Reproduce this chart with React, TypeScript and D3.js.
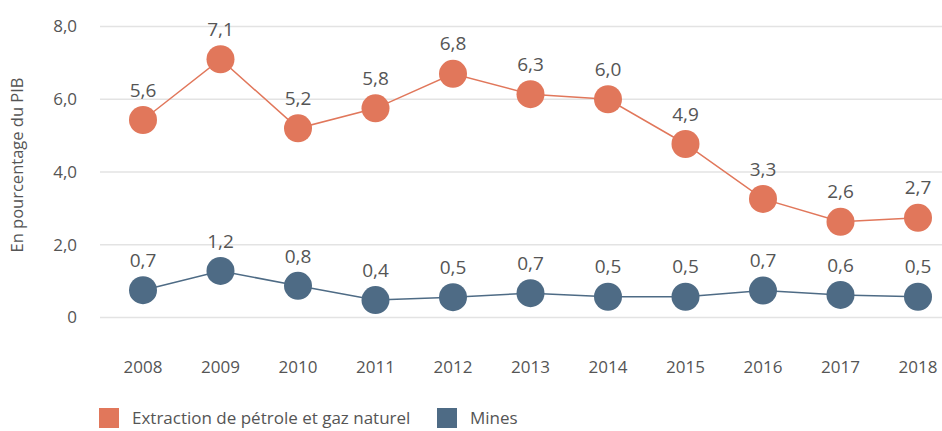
import React, { useEffect, useRef } from 'react';
import * as d3 from 'd3';

const years = ['2008', '2009', '2010', '2011', '2012', '2013', '2014', '2015', '2016', '2017', '2018'];
const petroleValues = [5.43, 7.1, 5.2, 5.75, 6.7, 6.14, 6.0, 4.77, 3.26, 2.63, 2.74];
const petroleLabels = ['5,6', '7,1', '5,2', '5,8', '6,8', '6,3', '6,0', '4,9', '3,3', '2,6', '2,7'];
const minesValues = [0.75, 1.28, 0.87, 0.48, 0.56, 0.67, 0.57, 0.57, 0.74, 0.62, 0.57];
const minesLabels = ['0,7', '1,2', '0,8', '0,4', '0,5', '0,7', '0,5', '0,5', '0,7', '0,6', '0,5'];
const yTicks = [0, 2, 4, 6, 8];
const yTickLabels = ['0', '2,0', '4,0', '6,0', '8,0'];

const ORANGE = '#e1775b';
const BLUE = '#4e6b85';
const TEXT = '#555555';
const FONT = '"Open Sans", Lato, sans-serif';

export default function App() {
  const ref = useRef<SVGSVGElement>(null);

  useEffect(() => {
    const width = 942;
    const height = 431;
    const svg = d3.select(ref.current).attr('viewBox', [0, 0, width, height]);
    svg.selectAll('*').remove();

    const x = d3.scalePoint<string>().domain(years).range([143, 918]);
    const y = d3.scaleLinear().domain([0, 8]).range([317.5, 26.5]);

    // grid
    svg
      .append('g')
      .selectAll('line')
      .data(yTicks)
      .join('line')
      .attr('x1', 100)
      .attr('x2', width)
      .attr('y1', (d) => y(d))
      .attr('y2', (d) => y(d))
      .attr('stroke', '#e3e3e3')
      .attr('stroke-width', 1.5);

    svg
      .append('g')
      .selectAll('text')
      .data(yTicks)
      .join('text')
      .attr('x', 77)
      .attr('y', (d) => y(d))
      .attr('dy', '0.35em')
      .attr('text-anchor', 'end')
      .attr('font-family', FONT)
      .attr('font-size', 17)
      .attr('fill', TEXT)
      .text((d, i) => yTickLabels[i]);

    svg
      .append('text')
      .attr('transform', 'translate(17,165) rotate(-90)')
      .attr('text-anchor', 'middle')
      .attr('dy', '0.35em')
      .attr('font-family', FONT)
      .attr('font-size', 16.5)
      .attr('fill', TEXT)
      .text('En pourcentage du PIB');

    svg
      .append('g')
      .selectAll('text')
      .data(years)
      .join('text')
      .attr('x', (d) => x(d)!)
      .attr('y', 367)
      .attr('dy', '0.35em')
      .attr('text-anchor', 'middle')
      .attr('font-family', FONT)
      .attr('font-size', 17)
      .attr('fill', TEXT)
      .text((d) => d);

    const line = d3
      .line<number>()
      .x((d, i) => x(years[i])!)
      .y((d) => y(d));

    const series = [
      { values: petroleValues, labels: petroleLabels, color: ORANGE },
      { values: minesValues, labels: minesLabels, color: BLUE },
    ];

    series.forEach((s) => {
      const g = svg.append('g');
      g.append('path')
        .attr('d', line(s.values))
        .attr('fill', 'none')
        .attr('stroke', s.color)
        .attr('stroke-width', 1.5);
      g.selectAll('circle')
        .data(s.values)
        .join('circle')
        .attr('cx', (d, i) => x(years[i])!)
        .attr('cy', (d) => y(d))
        .attr('r', 14)
        .attr('fill', s.color);
      g.selectAll('text')
        .data(s.values)
        .join('text')
        .attr('x', (d, i) => x(years[i])!)
        .attr('y', (d) => y(d) - 30)
        .attr('dy', '0.35em')
        .attr('text-anchor', 'middle')
        .attr('font-family', FONT)
        .attr('font-size', 19)
        .attr('fill', TEXT)
        .text((d, i) => s.labels[i]);
    });

    // legend
    const legend = [
      { label: 'Extraction de pétrole et gaz naturel', color: ORANGE, x: 99 },
      { label: 'Mines', color: BLUE, x: 437 },
    ];
    const lg = svg.append('g');
    legend.forEach((l) => {
      lg.append('rect')
        .attr('x', l.x)
        .attr('y', 408)
        .attr('width', 20)
        .attr('height', 20)
        .attr('fill', l.color);
      lg.append('text')
        .attr('x', l.x + 33)
        .attr('y', 418)
        .attr('dy', '0.35em')
        .attr('font-family', FONT)
        .attr('font-size', 17)
        .attr('fill', TEXT)
        .text(l.label);
    });
  }, []);

  return (
    <svg
      ref={ref}
      width={942}
      height={431}
      style={{ position: 'absolute', left: 0, top: 0, display: 'block', background: '#fff' }}
    ></svg>
  );
}
